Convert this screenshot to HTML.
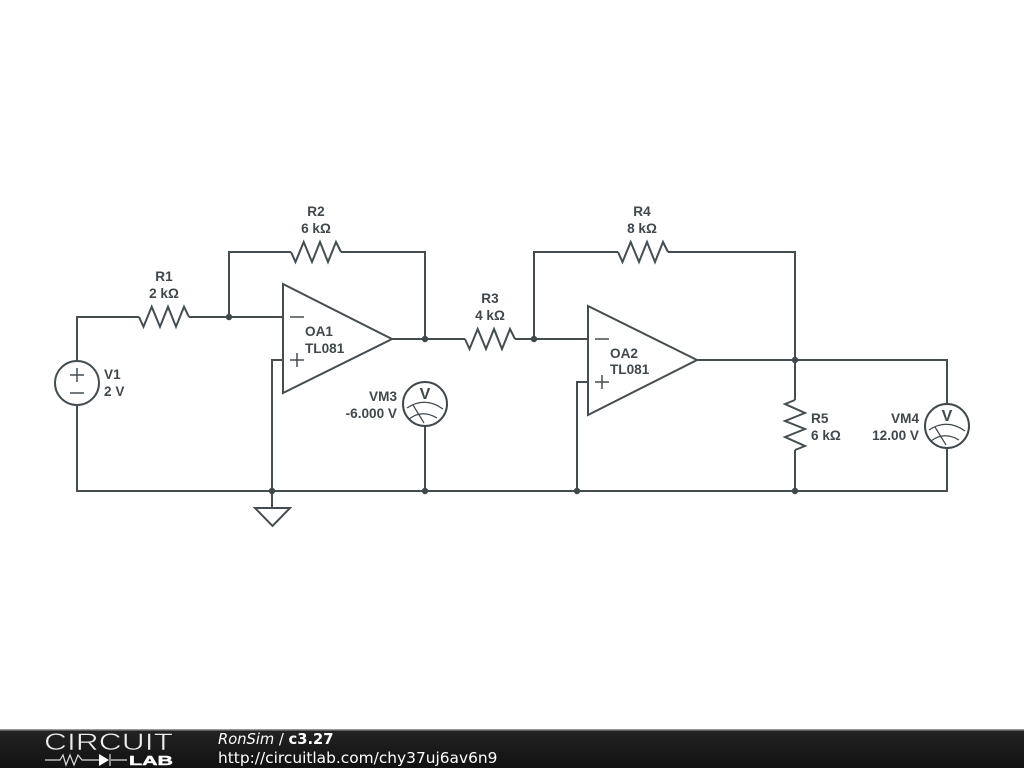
<!DOCTYPE html>
<html><head><meta charset="utf-8"><style>
html,body{margin:0;padding:0;background:#fff;width:1024px;height:768px;overflow:hidden}
svg{display:block}
.l{font:bold 13.6px "Liberation Sans",sans-serif;fill:#40484c}
.f{font:15.4px "DejaVu Sans",sans-serif;fill:#fff}
</style></head><body>
<svg width="1024" height="768" viewBox="0 0 1024 768">
<defs>
<linearGradient id="g" x1="0" y1="0" x2="0" y2="1"><stop offset="0" stop-color="#242424"/><stop offset="1" stop-color="#111"/></linearGradient>
<g id="m"><circle cx="0" cy="0" r="22" fill="#fff" stroke="#40484c" stroke-width="2"/>
<path d="M-18 4Q0 -8 18 5M-16 15Q-3 5 12 14M-12 1L-1 19" fill="none" stroke="#40484c" stroke-width="1.200"/></g></defs>
<g fill="none" stroke="#454d51" stroke-width="2">
<!-- wires -->
<path d="M77 362V317H139M189 317H283M229 317V252H291M341 252H425V339M392 339H465M515 339H588M534 339V252H618M668 252H795V400M697 360H947V404M795 450V491M947 448V491H77V404M425 426V491M283 360H272V508M588 382H577V491"/>
<!-- resistors -->
<path d="M139 317L143.500 326.700L151.700 306.700L160 326.700L168 306.700L176 326.700L184 306.700L189 317"/>
<path d="M291 252L295.500 262L303.700 242L312 262L320 242L328 262L336 242L341 252"/>
<path d="M465 339L469.500 349L477.700 329L486 349L494 329L502 349L510 329L515 339"/>
<path d="M618 252L622.500 262L630.700 242L639 262L647 242L655 262L663 242L668 252"/>
<path d="M795 400L785 404L805 413L785 421L805 429L785 437L805 446L795 450"/>
<!-- opamps -->
<path d="M283 284V393L392 339Z" fill="#fff"/>
<path d="M588 306V415L697 360Z" fill="#fff"/>
<path d="M290 317H304M297 353V367M290 360H304M595 339H609M602 375V389M595 382H609" stroke-width="1.500"/>
<!-- source -->
<circle cx="77" cy="383" r="22" fill="#fff"/>
<path d="M70 375H84M77 368V382M70 393H84" stroke-width="1.500"/>
<!-- ground -->
<path d="M255 508H290L272.500 526Z"/>
</g>
<use href="#m" x="425" y="404"/><use href="#m" x="947" y="426"/>
<g fill="#40484c">
<circle cx="229" cy="317" r="3.200"/><circle cx="425" cy="339" r="3.200"/><circle cx="534" cy="339" r="3.200"/>
<circle cx="795" cy="360" r="3.200"/><circle cx="272" cy="491" r="3.200"/><circle cx="425" cy="491" r="3.200"/>
<circle cx="577" cy="491" r="3.200"/><circle cx="795" cy="491" r="3.200"/>
</g>
<g class="l" text-anchor="middle">
<text class="l" x="164" y="281">R1</text><text class="l" x="164" y="298">2 kΩ</text>
<text class="l" x="316" y="216">R2</text><text class="l" x="316" y="233">6 kΩ</text>
<text class="l" x="490" y="303">R3</text><text class="l" x="490" y="320">4 kΩ</text>
<text class="l" x="642" y="216">R4</text><text class="l" x="642" y="233">8 kΩ</text>
<text x="425" y="399" style="font:bold 16px 'Liberation Sans',sans-serif" fill="#40484c">V</text>
<text x="947" y="421" style="font:bold 16px 'Liberation Sans',sans-serif" fill="#40484c">V</text>
</g>
<text class="l" x="104" y="379">V1</text><text class="l" x="104" y="396">2 V</text>
<text class="l" x="305" y="336">OA1</text><text class="l" x="305" y="353">TL081</text>
<text class="l" x="610" y="358">OA2</text><text class="l" x="610" y="374">TL081</text>
<text class="l" x="811" y="423">R5</text><text class="l" x="811" y="440">6 kΩ</text>
<g text-anchor="end">
<text class="l" x="397" y="401">VM3</text><text class="l" x="397" y="418">-6.000 V</text>
<text class="l" x="919" y="423">VM4</text><text class="l" x="919" y="440">12.00 V</text>
</g>
<!-- footer -->
<rect x="0" y="729" width="1024" height="39" fill="url(#g)"/>
<rect x="0" y="729" width="1024" height="1.500" fill="#999"/>
<text x="44" y="750" textLength="129" lengthAdjust="spacingAndGlyphs" style="font:24px 'Liberation Sans',sans-serif" fill="#eee" stroke="#1e1e1e" stroke-width=".6">CIRCUIT</text>
<path d="M45 760H60L63 755L66 765L70 755L74 765L78 755L82 760H99M111 760H127M110 754V766" stroke="#ddd" stroke-width="1.200" fill="none"/>
<path d="M99 754V766L109 760Z" fill="#fff"/>
<text x="129" y="765" textLength="44" lengthAdjust="spacingAndGlyphs" style="font:bold 12.500px 'Liberation Sans',sans-serif" fill="#fff" stroke="#fff" stroke-width=".4">LAB</text>
<text x="218" y="744" style="font:14.700px 'DejaVu Sans',sans-serif" fill="#fff"><tspan font-style="italic">RonSim</tspan> / <tspan font-weight="bold">c3.27</tspan></text>
<text class="f" x="218" y="763">http://circuitlab.com/chy37uj6av6n9</text>
</svg>
</body></html>
